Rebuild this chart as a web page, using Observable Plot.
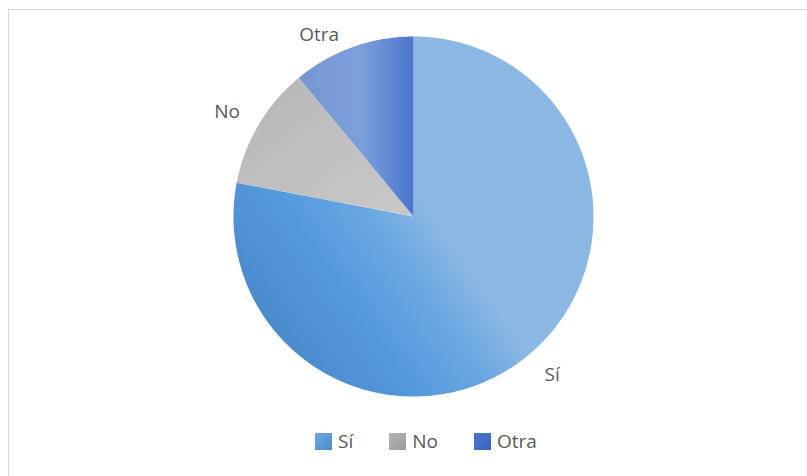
<!DOCTYPE html>
<html>
<head>
<meta charset="utf-8">
<script src="https://cdn.jsdelivr.net/npm/d3@7"></script>
<script src="https://cdn.jsdelivr.net/npm/@observablehq/plot@0.6"></script>
<style>
  html, body { margin: 0; padding: 0; background: #fff; }
  body { width: 807px; height: 476px; overflow: hidden; position: relative; font-family: "Open Sans", "DejaVu Sans", sans-serif; }
  #frame { position: absolute; left: 8px; top: 9px; width: 830px; height: 500px; border: 1.5px solid #d9d9d9; box-sizing: border-box; }
  #chart { position: absolute; left: 0; top: 0; }
  #legend { position: absolute; left: 315px; top: 428px; display: flex; align-items: center; font-size: 19px; color: #595959; }
  .item { display: flex; align-items: center; margin-right: 36px; }
  .sw { width: 17px; height: 17px; margin-right: 6px; }
</style>
</head>
<body>
<div id="frame"></div>
<div id="chart"></div>
<div id="legend"></div>
<script>
// ---- data ----
const categories = ["Sí", "No", "Otra"];
const values = [78, 11, 11];

// ---- styles ----
const sliceStops = [
  [[0, "#4584c6"], [0.28, "#559ade"], [0.42, "#6aa7e1"], [0.53, "#8ab7e3"], [1, "#8cb9e3"]],
  [[0, "#b6b6b6"], [1, "#c9c9c9"]],
  [[0, "#7795d4"], [0.55, "#7c9fdb"], [1, "#4a77cc"]]
];
const sliceDirs = [
  {x1: 0, y1: 0.85, x2: 1, y2: 0.15},
  {x1: 0, y1: 0, x2: 1, y2: 1},
  {x1: 0, y1: 0, x2: 1, y2: 0}
];
const swatchCss = [
  "linear-gradient(135deg, #6aa9e2, #4a8bcc)",
  "linear-gradient(135deg, #b4b4b4, #9c9c9c)",
  "linear-gradient(135deg, #4a78d0, #3563c0)"
];

// ---- layout ----
const W = 807, H = 420;
const cx = 413, cy = 216, rPx = 180;
const labelTop = 34;

const arcs = d3.pie().sort(null).value(d => d)(values);

const poly = [];
arcs.forEach((a, i) => {
  const n = Math.max(8, Math.ceil((a.endAngle - a.startAngle) / 0.01));
  poly.push({key: i, x: 0, y: 0, fill: `url(#slice-${i})`});
  for (let k = 0; k <= n; k++) {
    const t = a.startAngle + (a.endAngle - a.startAngle) * k / n;
    poly.push({key: i, x: Math.sin(t), y: Math.cos(t), fill: `url(#slice-${i})`});
  }
  poly.push({key: i, x: 0, y: 0, fill: `url(#slice-${i})`});
});

const labels = arcs.map((a, i) => {
  const m = (a.startAngle + a.endAngle) / 2;
  const s = Math.sin(m), c = Math.cos(m);
  const ux = s * (rPx + 10) / rPx;
  let uy = c * (rPx + 25) / rPx;
  const lim = (cy - labelTop) / rPx;
  if (uy > lim) uy = lim;
  return {x: ux, y: uy, side: Math.sign(s), text: categories[i]};
});

const textOpts = {x: "x", y: "y", text: "text", fontSize: 19, fill: "#595959", fontFamily: "Open Sans, DejaVu Sans, sans-serif"};

const plot = Plot.plot({
  width: W,
  height: H,
  margin: 0,
  x: {domain: [-1, 1], range: [cx - rPx, cx + rPx], axis: null},
  y: {domain: [-1, 1], range: [cy + rPx, cy - rPx], axis: null},
  color: {type: "identity"},
  style: {background: "transparent", overflow: "visible"},
  marks: [
    Plot.line(poly, {x: "x", y: "y", z: "key", fill: "fill", stroke: "none", curve: "linear"}),
    Plot.text(labels, {...textOpts, filter: d => d.side < 0, textAnchor: "end", dx: -10}),
    Plot.text(labels, {...textOpts, filter: d => d.side >= 0, textAnchor: "start", dx: 10})
  ]
});

// gradients
const defs = d3.select(plot).insert("defs", ":first-child");
sliceStops.forEach((stops, i) => {
  const g = defs.append("linearGradient")
    .attr("id", `slice-${i}`)
    .attr("gradientUnits", "objectBoundingBox")
    .attr("x1", sliceDirs[i].x1).attr("y1", sliceDirs[i].y1)
    .attr("x2", sliceDirs[i].x2).attr("y2", sliceDirs[i].y2);
  stops.forEach(([o, col]) => g.append("stop").attr("offset", o).attr("stop-color", col));
});

document.getElementById("chart").appendChild(plot);

// legend
const leg = d3.select("#legend");
categories.forEach((c, i) => {
  const it = leg.append("div").attr("class", "item");
  it.append("div").attr("class", "sw").style("background", swatchCss[i]);
  it.append("span").text(c);
});
</script>
</body>
</html>
